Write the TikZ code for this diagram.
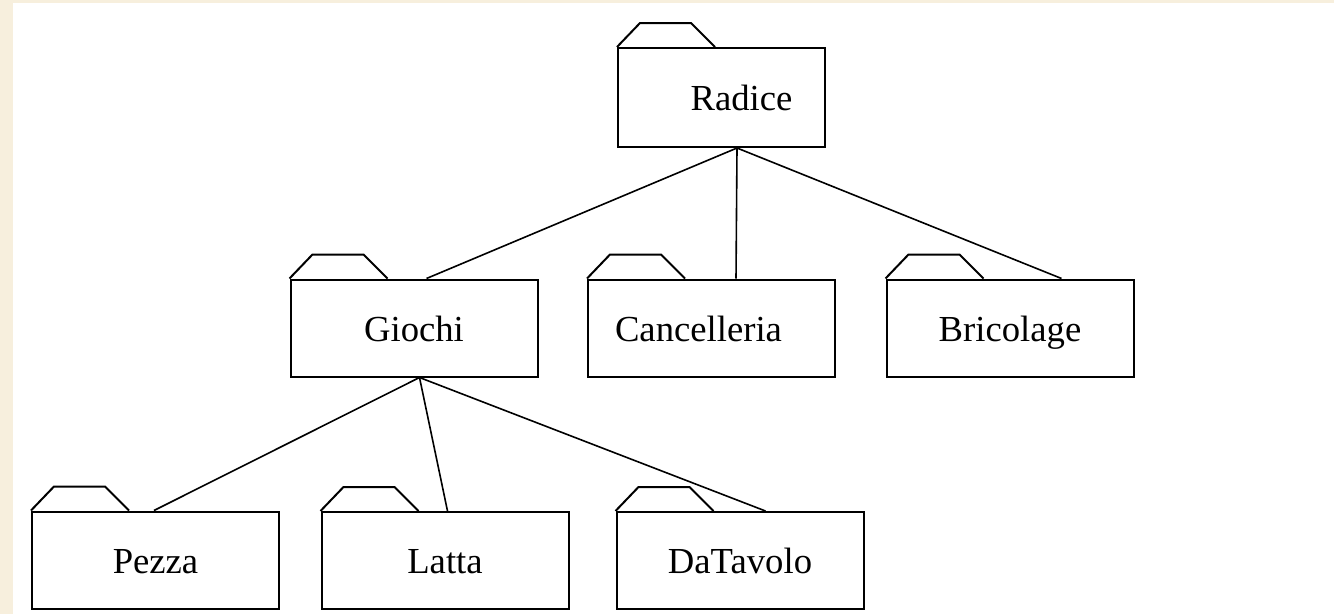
\documentclass[tikz,border=0pt]{standalone}
\usepackage{fontspec}
\setmainfont{Liberation Serif}
\usetikzlibrary{calc}
\definecolor{beige}{RGB}{247,239,221}
\tikzset{
  folder/.style={draw=black, line width=1.5pt, rectangle, inner sep=0pt,
    minimum width=247*0.75pt, minimum height=97*0.75pt,
    text height=19.5pt, text depth=0pt,
    font=\fontsize{27.5}{33}\selectfont},
  tabline/.style={draw=black, line width=1.5pt, line join=miter},
  link/.style={draw=black, line width=1.2pt}
}
\newcommand{\foldertab}[1]{\draw[tabline] (#1.north west) -- ++(23,-24) -- ++(51,0) -- ++(24,24);}
\begin{document}
\begin{tikzpicture}[x=0.75pt,y=-0.75pt]
\useasboundingbox (0,0) rectangle (1334,614);
\fill[beige] (0,0) rectangle (1334,614);
\fill[white] (13,3) rectangle (1334,614);

\node[folder, minimum width=207*0.75pt, minimum height=99*0.75pt] (radice) at (721.5,97.5) {\hspace*{40\dimexpr0.75pt\relax}Radice};
\node[folder] (giochi) at (414,328) {Giochi};
\node[folder] (cancelleria) at (711.5,328) {Cancelleria\hspace*{26\dimexpr0.75pt\relax}};
\node[folder] (bricolage) at (1010,328) {Bricolage};
\node[folder] (pezza) at (155.5,560) {Pezza};
\node[folder] (latta) at (445,560.5) {Latta};
\node[folder] (datavolo) at (740,560.5) {DaTavolo};

\foreach \n in {radice,giochi,cancelleria,bricolage,pezza,latta,datavolo}{\foldertab{\n}}

\coordinate (rb) at ($(radice.south west)+(120,0)$);
\coordinate (gb) at ($(giochi.south west)+(130,0)$);
\draw[link] (rb) -- ($(giochi.north west)+(137,0)$);
\draw[link] (rb) -- ($(cancelleria.north west)+(149,0)$);
\draw[link] (rb) -- ($(bricolage.north west)+(176,0)$);
\draw[link] (gb) -- ($(pezza.north west)+(123,0)$);
\draw[link] (gb) -- ($(latta.north west)+(127,0)$);
\draw[link] (gb) -- ($(datavolo.north west)+(150,0)$);
\end{tikzpicture}
\end{document}
